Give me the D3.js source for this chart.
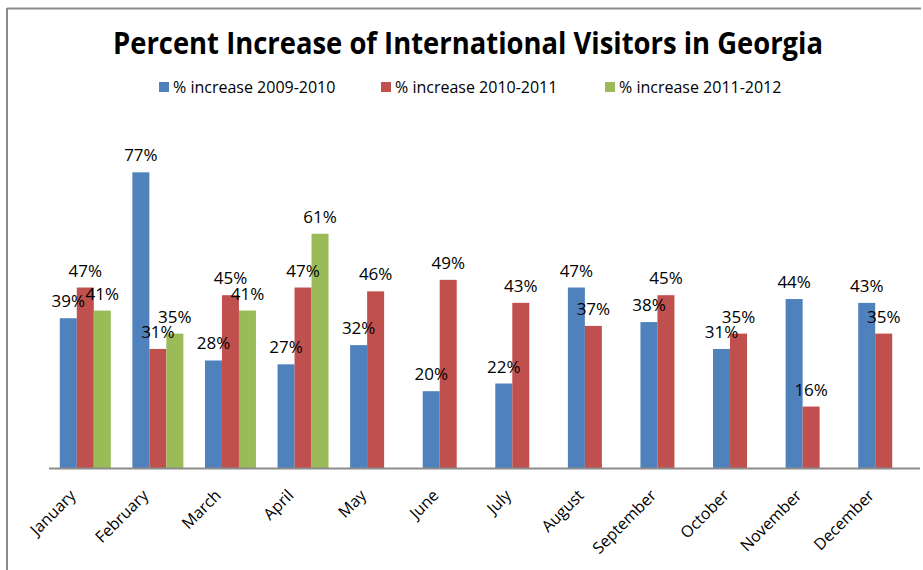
<!DOCTYPE html>
<html>
<head>
<meta charset="utf-8">
<script src="https://cdn.jsdelivr.net/npm/d3@7"></script>
<style>
  html, body { margin: 0; padding: 0; background: #fff; }
  svg { display: block; }
  text { font-family: "Open Sans", "Noto Sans", sans-serif; fill: #000; }
</style>
</head>
<body>
<svg id="chart" width="923" height="570"></svg>
<script>
// Chart data (percent increase per month)
const months = ["January", "February", "March", "April", "May", "June",
                "July", "August", "September", "October", "November", "December"];
const seriesNames = ["% increase 2009-2010", "% increase 2010-2011", "% increase 2011-2012"];
const inc2009_2010 = [39, 77, 28, 27, 32, 20, 22, 47, 38, 31, 44, 43];
const inc2010_2011 = [47, 31, 45, 47, 46, 49, 43, 37, 45, 35, 16, 35];
const inc2011_2012 = [41, 35, 41, 61, null, null, null, null, null, null, null, null];
const seriesColors = ["#4F81BD", "#C0504D", "#9BBB59"];

const seriesValues = [inc2009_2010, inc2010_2011, inc2011_2012];

const svg = d3.select("#chart");

// Frame lines (top and left edges of the chart area)
svg.append("line").attr("x1", 7).attr("x2", 921).attr("y1", 8.5).attr("y2", 8.5)
  .attr("stroke", "#8c8c8c").attr("stroke-width", 2);
svg.append("line").attr("x1", 7).attr("x2", 7).attr("y1", 8).attr("y2", 570)
  .attr("stroke", "#8c8c8c").attr("stroke-width", 2);

// Scales
const baseY = 468;
const x = d3.scaleBand().domain(months).range([49, 920]).paddingInner(0).paddingOuter(0);
const xs = d3.scaleBand().domain(d3.range(3)).range([0, x.bandwidth()])
  .paddingInner(0).paddingOuter(0.635);
const y = d3.scaleLinear().domain([0, 90]).range([baseY, 122.4]);

// Title
svg.append("text")
  .attr("x", 468).attr("y", 54)
  .attr("text-anchor", "middle")
  .attr("font-weight", "bold")
  .attr("font-size", 29.5)
  .attr("textLength", 710).attr("lengthAdjust", "spacingAndGlyphs")
  .text("Percent Increase of International Visitors in Georgia");

// Legend
const legendX = [159, 381, 605];
const legend = svg.append("g");
seriesNames.forEach((name, i) => {
  legend.append("rect")
    .attr("x", legendX[i]).attr("y", 82).attr("width", 10).attr("height", 10)
    .attr("fill", seriesColors[i]);
  legend.append("text")
    .attr("x", legendX[i] + 14).attr("y", 93)
    .attr("font-size", 16)
    .text(name);
});

// Bars
const rows = [];
seriesValues.forEach((vals, s) => {
  vals.forEach((v, m) => {
    if (v != null) rows.push({ s, month: months[m], v });
  });
});

svg.append("g").selectAll("rect").data(rows).join("rect")
  .attr("x", d => x(d.month) + xs(d.s))
  .attr("y", d => y(d.v))
  .attr("width", xs.bandwidth())
  .attr("height", d => baseY - y(d.v))
  .attr("fill", d => seriesColors[d.s]);

// Value labels
svg.append("g").selectAll("text").data(rows).join("text")
  .attr("x", d => x(d.month) + xs(d.s) + xs.bandwidth() / 2)
  .attr("y", d => y(d.v) - 11)
  .attr("text-anchor", "middle")
  .attr("font-size", 17)
  .text(d => d.v + "%");

// Category axis baseline
svg.append("line").attr("x1", 49).attr("x2", 920).attr("y1", baseY + 0.5).attr("y2", baseY + 0.5)
  .attr("stroke", "#8c8c8c").attr("stroke-width", 2);

// Month labels, rotated
svg.append("g").selectAll("text").data(months).join("text")
  .attr("transform", m => `translate(${x(m) + x.bandwidth() / 2 - 8.5},${496.5}) rotate(-45)`)
  .attr("text-anchor", "end")
  .attr("font-size", 16)
  .text(m => m);
</script>
</body>
</html>
